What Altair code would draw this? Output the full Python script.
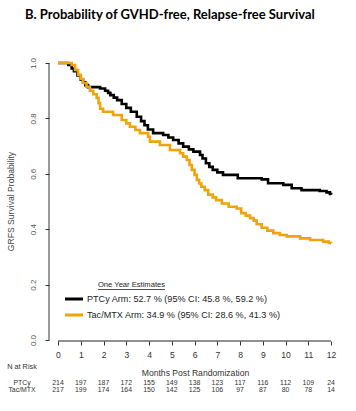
import altair as alt
import pandas as pd

# ---- survival curves (step functions) ----
ptcy_t = [0, 0.45, 0.6, 0.7, 0.85, 1.0, 1.1, 1.2, 1.32, 1.85, 2.07, 2.2, 2.3, 2.45, 2.6, 2.8, 3.0,
          3.2, 3.46, 3.65, 3.8, 3.95, 4.18, 4.62, 4.85, 5.06, 5.3, 5.5, 5.75, 5.95, 6.24, 6.35, 6.5,
          6.65, 6.8, 7.0, 7.25, 7.9, 8.95, 9.23, 9.9, 10.27, 10.7, 11.5, 11.8, 11.95, 12.0]
ptcy_s = [1.0, 0.993, 0.98, 0.97, 0.955, 0.94, 0.93, 0.92, 0.913, 0.908, 0.9, 0.892, 0.884, 0.875,
          0.866, 0.852, 0.838, 0.824, 0.806, 0.79, 0.775, 0.76, 0.747, 0.74, 0.731, 0.722, 0.71,
          0.698, 0.688, 0.68, 0.668, 0.655, 0.638, 0.625, 0.614, 0.605, 0.596, 0.584, 0.58, 0.566,
          0.56, 0.548, 0.541, 0.538, 0.533, 0.527, 0.524]

tac_t = [0, 0.6, 0.75, 0.88, 1.0, 1.1, 1.25, 1.4, 1.55, 1.7, 1.78, 1.85, 1.98, 2.42, 2.8, 3.0, 3.16,
         3.4, 3.6, 3.96, 4.04, 4.48, 4.92, 5.36, 5.5, 5.66, 5.78, 5.88, 6.0, 6.1, 6.2, 6.3, 6.45,
         6.6, 6.8, 6.95, 7.2, 7.5, 7.85, 8.05, 8.25, 8.44, 8.6, 8.73, 8.95, 9.2, 9.46, 9.75, 10.05,
         10.64, 11.08, 11.65, 11.9, 12.0]
tac_s = [1.0, 0.993, 0.975, 0.957, 0.942, 0.928, 0.914, 0.9, 0.887, 0.874, 0.855, 0.835, 0.824,
         0.812, 0.794, 0.782, 0.77, 0.758, 0.747, 0.734, 0.716, 0.704, 0.686, 0.674, 0.662, 0.65,
         0.632, 0.614, 0.596, 0.578, 0.565, 0.553, 0.541, 0.525, 0.515, 0.505, 0.493, 0.481, 0.475,
         0.458, 0.449, 0.44, 0.431, 0.418, 0.405, 0.395, 0.386, 0.379, 0.374, 0.367, 0.361, 0.355,
         0.35, 0.349]

# ---- risk table ----
months = list(range(13))
ptcy_risk = [214, 197, 187, 172, 155, 149, 138, 123, 117, 116, 112, 109, 24]
tac_risk = [217, 199, 174, 164, 150, 142, 125, 106, 97, 87, 80, 78, 14]

arms = ["PTCy", "Tac/MTX"]
arm_colors = ["#000000", "#F0A30A"]
legend_labels = ["PTCy Arm: 52.7 % (95% CI: 45.8 %, 59.2 %)",
                 "Tac/MTX Arm: 34.9 % (95% CI: 28.6 %, 41.3 %)"]
y_ticks = [0.0, 0.2, 0.4, 0.6, 0.8, 1.0]

title_text = "B. Probability of GVHD-free, Relapse-free Survival"
legend_head = "One Year Estimates"

W, H = 293, 289
FONT = "Liberation Sans"

curves = pd.concat([
    pd.DataFrame({"t": ptcy_t, "s": ptcy_s, "arm": arms[0]}),
    pd.DataFrame({"t": tac_t, "s": tac_s, "arm": arms[1]}),
])
risk = pd.concat([
    pd.DataFrame({"t": months, "n": ptcy_risk, "arm": arms[0]}),
    pd.DataFrame({"t": months, "n": tac_risk, "arm": arms[1]}),
])

xs = alt.Scale(domain=[-0.396, 12.48], nice=False, zero=False)
ys = alt.Scale(domain=[-0.0036, 1.0397], nice=False, zero=False)
color = alt.Color("arm:N", scale=alt.Scale(domain=arms, range=arm_colors), legend=None)

x_axis = alt.Axis(
    values=months, format="d", domain=False, grid=False, tickSize=4, tickColor="#333",
    labelOverlap=False, labelFlush=False, labelSeparation=0,
    labelPadding=5, labelFontSize=8.6, labelColor="#333", labelFont=FONT,
    title="Months Post Randomization", titleFont=FONT, titleFontSize=8.6,
    titleFontWeight="normal", titleColor="#333", titleX=146, titleY=31,
    titleBaseline="middle", titleAlign="center")
X = alt.X("t:Q", scale=xs, axis=x_axis)

lines = alt.Chart(curves).mark_line(interpolate="step-after", strokeWidth=2.6).encode(
    x=X,
    y=alt.Y("s:Q", scale=ys, axis=alt.Axis(
        values=y_ticks, format=".1f", domain=False, grid=False, tickSize=4, tickColor="#333",
        labelOverlap=False, labelFlush=False,
        labelAngle=270, labelAlign="center", labelBaseline="bottom", labelPadding=8,
        labelFontSize=8, labelColor="#555", labelFont=FONT,
        title="GRFS Survival Probability", titleFont=FONT, titleFontSize=8.6,
        titleFontWeight="normal", titleColor="#444", titleAngle=270, titleX=-39, titleY=149,
        titleBaseline="middle", titleAlign="center")),
    color=color,
)

yaxis_line = alt.Chart(pd.DataFrame({"s": [y_ticks[0]], "s2": [y_ticks[-1]]})).mark_rule(
    color="#333", strokeWidth=1).encode(x=alt.value(0), y="s:Q", y2="s2:Q")
xaxis_line = alt.Chart(pd.DataFrame({"t": [months[0]], "t2": [months[-1]]})).mark_rule(
    color="#222", strokeWidth=1).encode(y=alt.value(H), x=X, x2="t2:Q")

layers = [lines, yaxis_line, xaxis_line]

# risk table numbers
for i, arm in enumerate(arms):
    layers.append(
        alt.Chart(risk).transform_filter(alt.datum.arm == arm).mark_text(
            font=FONT, fontSize=6.9, color="#333", baseline="middle", align="center").encode(
            x=X, y=alt.value(330.8 + 7.6 * i), text="n:Q"))

# row labels
row_text = pd.DataFrame({"label": ["N at Risk"] + arms, "row": [0, 1, 2]})
for i, lab in enumerate(["N at Risk"] + arms):
    yy = [314.5, 330.8, 338.4][i]
    layers.append(
        alt.Chart(row_text).transform_filter(alt.datum.label == lab).mark_text(
            font=FONT, fontSize=6.9 if i else 7.3, color="#333", baseline="middle",
            align="center").encode(
            x=alt.value(-27), y=alt.value(yy), text="label:N"))

# title
layers.append(
    alt.Chart(pd.DataFrame({"txt": [title_text]})).mark_text(
        font="Lato", fontSize=13, fontWeight="bold", color="#000", align="left",
        baseline="middle").encode(x=alt.value(-24), y=alt.value(-37), text="txt:N"))

# legend
layers.append(
    alt.Chart(pd.DataFrame({"txt": [legend_head]})).mark_text(
        font=FONT, fontSize=7.6, color="#222", align="center", baseline="middle").encode(
        x=alt.value(82.5), y=alt.value(233), text="txt:N"))
layers.append(
    alt.Chart(pd.DataFrame({"txt": [legend_head]})).mark_rule(color="#222", strokeWidth=0.8).encode(
        x=alt.value(49), x2=alt.value(116), y=alt.value(237.5)))
leg = pd.DataFrame({"arm": arms, "label": legend_labels})
for i, arm in enumerate(arms):
    yy = 247 + 16 * i
    layers.append(
        alt.Chart(leg).transform_filter(alt.datum.arm == arm).mark_rule(strokeWidth=3).encode(
            x=alt.value(16), x2=alt.value(34), y=alt.value(yy), color=color))
    layers.append(
        alt.Chart(leg).transform_filter(alt.datum.arm == arm).mark_text(
            font=FONT, fontSize=9.1, color="#222", align="left", baseline="middle").encode(
            x=alt.value(38), y=alt.value(yy), text="label:N"))

chart = alt.layer(*layers).properties(
    width=W, height=H,
    autosize=alt.AutoSizeParams(type="none"),
    padding={"left": 49, "top": 52, "right": 14, "bottom": 70},
    background="white",
).configure_view(stroke=None)

chart.save("out.html", embed_options={"renderer": "svg", "actions": False})
